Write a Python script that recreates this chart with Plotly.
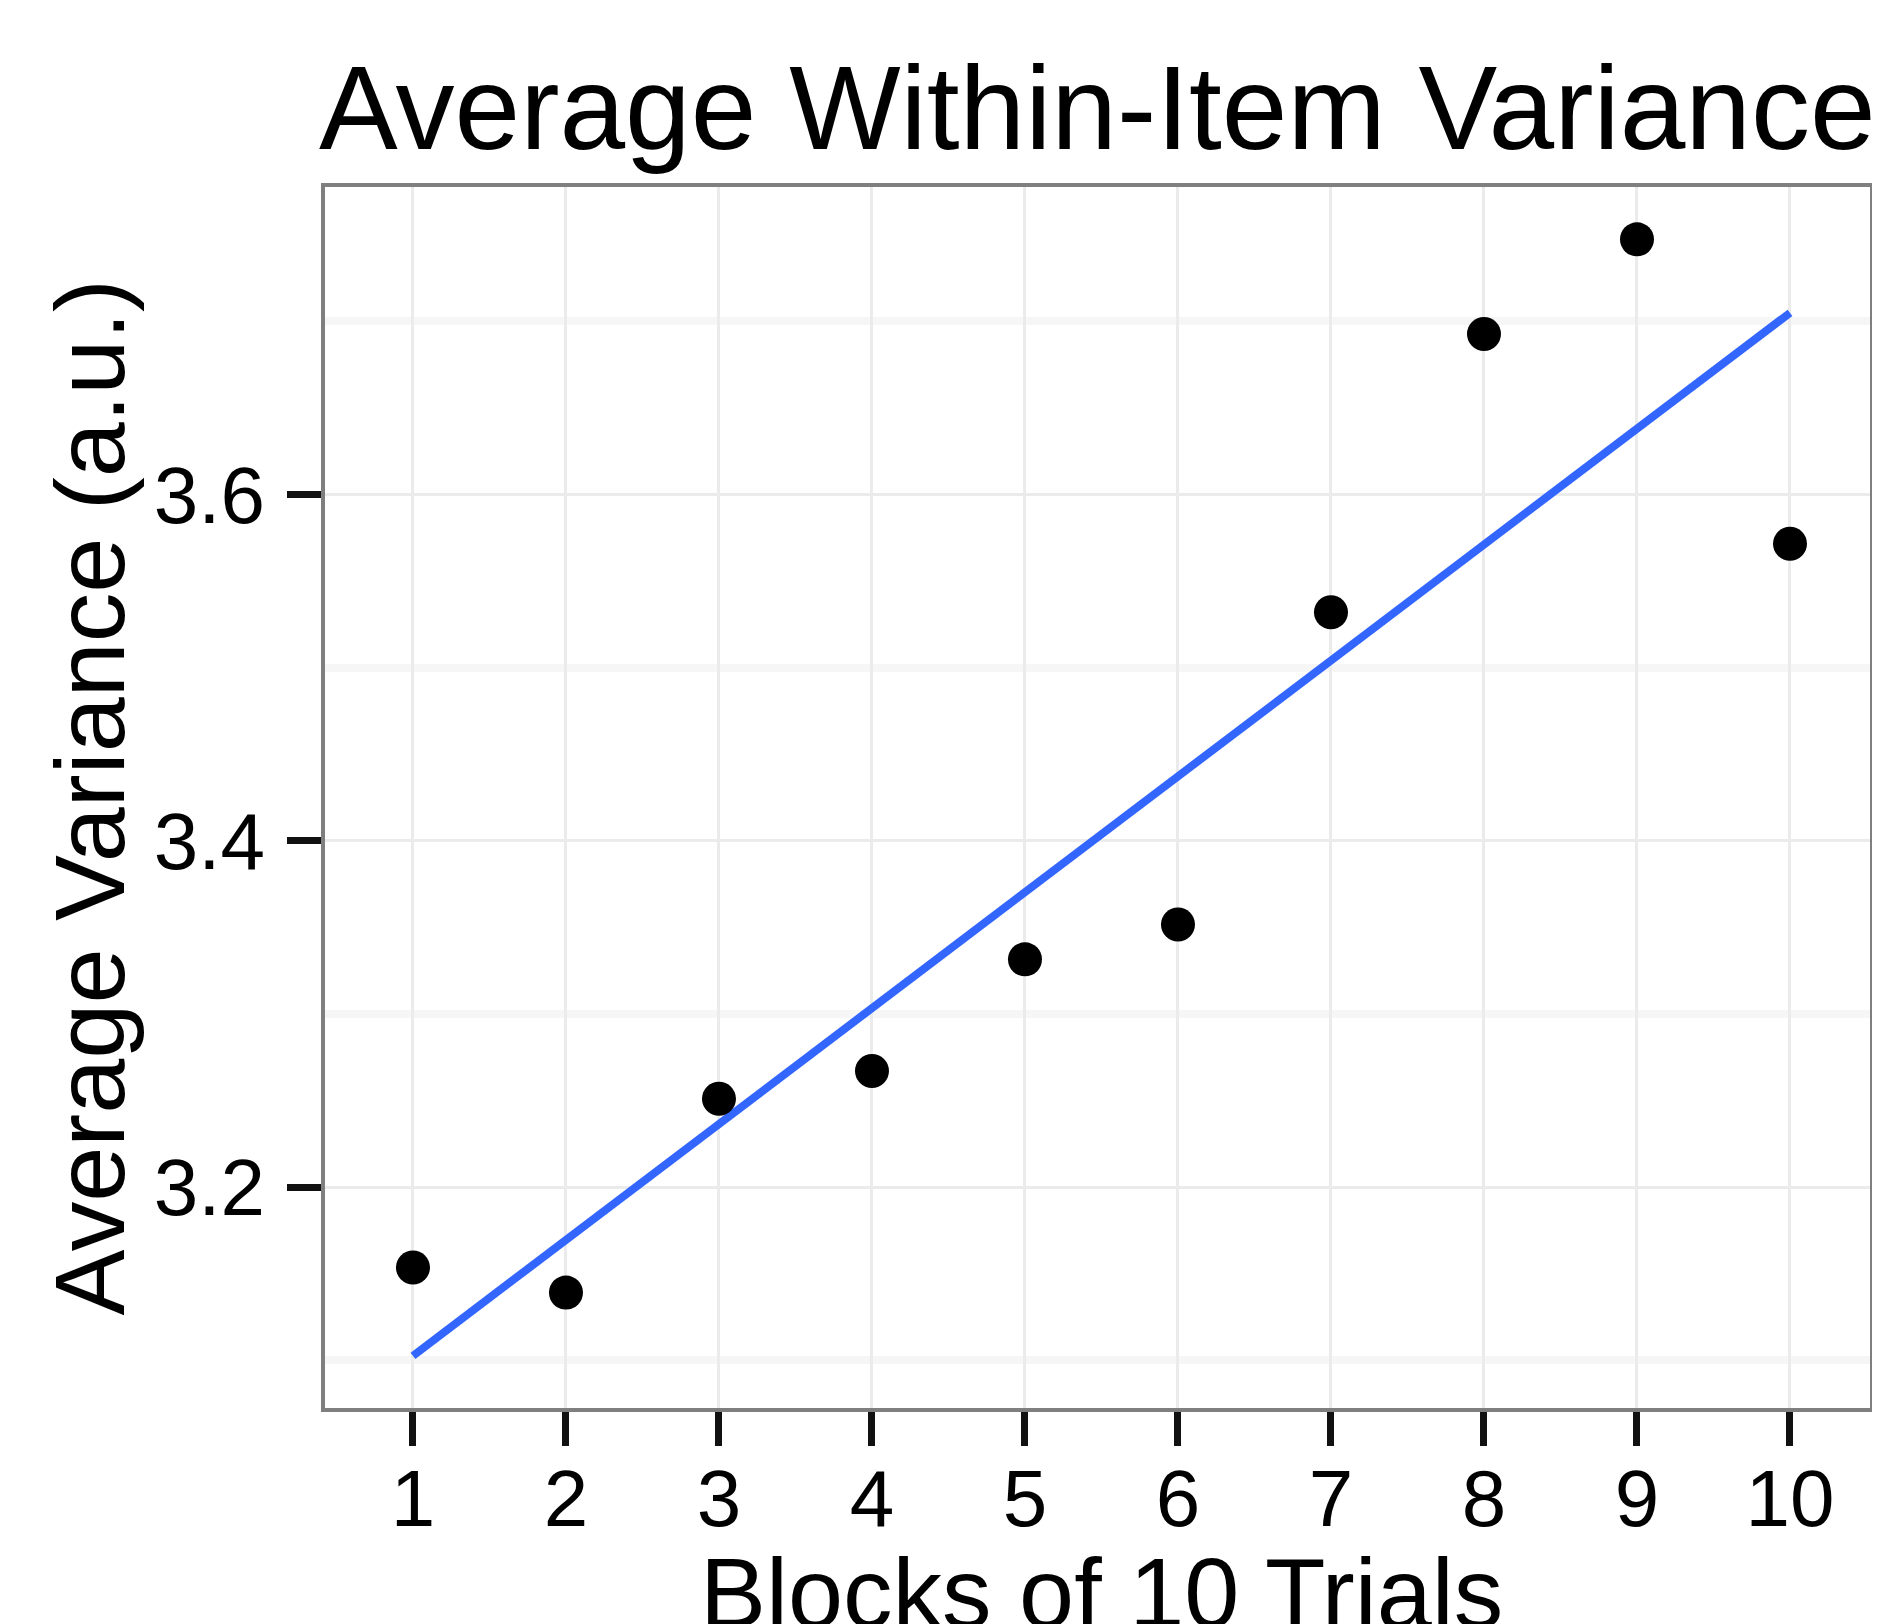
import numpy as np
import plotly.graph_objects as go

# Data
blocks = [1, 2, 3, 4, 5, 6, 7, 8, 9, 10]
avg_variance = [3.1535, 3.139, 3.251, 3.267, 3.3315, 3.3516, 3.532, 3.6927, 3.7474, 3.5716]
x_tick_labels = ["1", "2", "3", "4", "5", "6", "7", "8", "9", "10"]
y_tick_vals = [3.2, 3.4, 3.6]
y_tick_labels = ["3.2", "3.4", "3.6"]

title_text = "Average Within-Item Variance"
x_title = "Blocks of 10 Trials"
y_title = "Average Variance (a.u.)"

FONT = "Liberation Sans, Arial, Helvetica, sans-serif"

# linear fit (ggplot geom_smooth(method='lm'))
slope, intercept = np.polyfit(blocks, avg_variance, 1)
fit_x = [min(blocks), max(blocks)]
fit_y = [intercept + slope * v for v in fit_x]

OFF = 8  # browser body margin
W, H = 1880 - OFF, 1624 - OFF
L, R, T, B = 323 - OFF, 8, 185 - OFF, 214
PW = W - L - R
PH = H - T - B

fig = go.Figure()
fig.add_trace(go.Scatter(
    x=fit_x, y=fit_y, mode="lines",
    line=dict(color="#3366FF", width=8),
    hoverinfo="skip", showlegend=False,
))
fig.add_trace(go.Scatter(
    x=blocks, y=avg_variance, mode="markers",
    marker=dict(color="black", size=34, line=dict(width=0)),
    showlegend=False,
))

fig.update_layout(
    width=W, height=H, autosize=False,
    margin=dict(l=L, r=R, t=T, b=B, pad=0),
    paper_bgcolor="white", plot_bgcolor="white",
    font=dict(family=FONT, color="black"),
    showlegend=False,
)

fig.update_xaxes(
    range=[0.412, 10.536],
    tickmode="array", tickvals=blocks, ticktext=x_tick_labels,
    showgrid=True, gridcolor="#EBEBEB", gridwidth=3,
    zeroline=False, showline=False,
    ticks="outside", ticklen=35, tickwidth=7, tickcolor="#111111",
    tickfont=dict(size=80, family=FONT, color="black"),
    ticklabelstandoff=-16,
)
fig.update_yaxes(
    range=[3.0712, 3.7788],
    tickmode="array", tickvals=y_tick_vals, ticktext=y_tick_labels,
    showgrid=True, gridcolor="#EBEBEB", gridwidth=3,
    minor=dict(tick0=3.1, dtick=0.2, showgrid=True, gridcolor="#F6F6F6", gridwidth=8, ticks=""),
    zeroline=False, showline=False,
    ticks="outside", ticklen=35, tickwidth=7, tickcolor="#111111",
    tickfont=dict(size=80, family=FONT, color="black"),
    ticklabelstandoff=6,
)

# panel border
fig.add_shape(type="rect", xref="paper", yref="paper", x0=0, x1=1, y0=0, y1=1,
              line=dict(color="#7F7F7F", width=4), fillcolor="rgba(0,0,0,0)", layer="above")

# title
fig.add_annotation(text=title_text, xref="paper", yref="paper",
                   x=(317 - 323) / PW, y=1 + (185 - 108.4) / PH,
                   xanchor="left", yanchor="middle", showarrow=False,
                   font=dict(size=118, family=FONT, color="black"))
# x axis title
fig.add_annotation(text=x_title, xref="paper", yref="paper",
                   x=(1101 - 323) / PW, y=-(1592 - 1410) / PH,
                   xanchor="center", yanchor="middle", showarrow=False,
                   font=dict(size=99, family=FONT, color="black"))
# y axis title
fig.add_annotation(text=y_title, xref="paper", yref="paper",
                   x=(89 - 323) / PW, y=0.5, textangle=-90,
                   xanchor="center", yanchor="middle", showarrow=False,
                   font=dict(size=99, family=FONT, color="black"))

fig.write_html(
    "out.html",
    post_script="document.documentElement.style.overflow='hidden';document.body.style.overflow='hidden';",
)
